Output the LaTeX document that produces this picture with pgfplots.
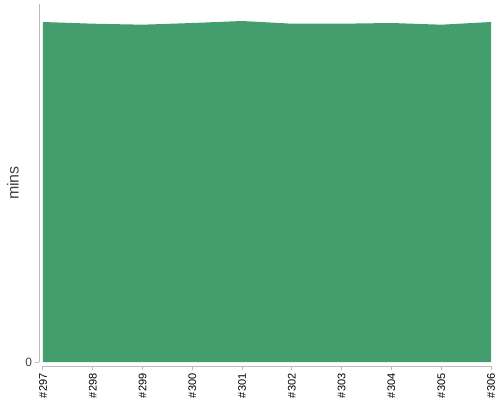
\documentclass[border=0pt]{standalone}
\usepackage{fontspec}
\setmainfont{Liberation Sans}
\usepackage{pgfplots}
\pgfplotsset{compat=1.18}
\definecolor{areagreen}{HTML}{449D6C}
\definecolor{axisgray}{HTML}{BBBBBB}
\definecolor{labelgray}{HTML}{444444}
\begin{document}
\begin{tikzpicture}
\path[use as bounding box] (-43pt,-38pt) rectangle (457pt,362pt);
\begin{axis}[
    scale only axis,
    width=448pt, height=358pt,
    xmin=0, xmax=9,
    ymin=0, ymax=358,
    axis lines=left,
    axis line style={-, draw=axisgray, line width=1pt},
    axis x line shift=4pt,
    axis y line shift=3.5pt,
    xtick={0,...,9},
    xticklabels={\#297,\#298,\#299,\#300,\#301,\#302,\#303,\#304,\#305,\#306},
    x tick label style={rotate=90, anchor=east, font=\fontsize{11}{13}\selectfont, black},
    ytick={0},
    y tick label style={font=\fontsize{12}{14}\selectfont, labelgray},
    tick align=outside,
    major tick length=4pt,
    tick style={draw=axisgray, line width=1pt},
    ylabel={mins},
    ylabel style={font=\fontsize{16}{19}\selectfont, labelgray, at={(-30pt,179pt)}, anchor=center},
    /pgf/number format/assume math mode=true,
]
\addplot[fill=areagreen, draw=none] coordinates {
    (0,340) (1,338.3) (2,337.3) (3,339) (4,341) (5,338.3) (6,338.3) (7,339) (8,337.3) (9,340)
} \closedcycle;
\end{axis}
\end{tikzpicture}
\end{document}
